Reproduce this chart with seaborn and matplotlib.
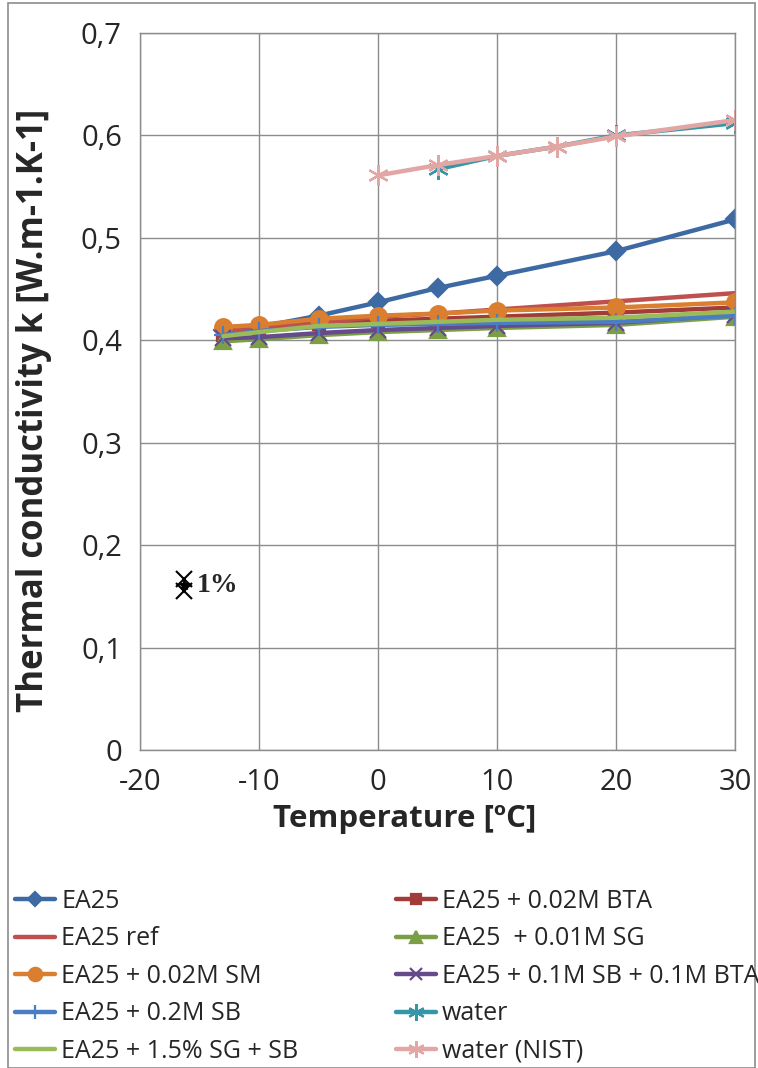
import matplotlib
matplotlib.use('Agg')
import matplotlib.pyplot as plt
import matplotlib.ticker as mticker
from matplotlib.patches import Rectangle
import seaborn as sns
import pandas as pd

sns.set_style('white')
plt.rcParams['font.family'] = ['Open Sans', 'DejaVu Sans']

# ---- data ----
temp_ea = [-13, -10, -5, 0, 5, 10, 20, 30]
k_ea25 = [0.410, 0.413, 0.424, 0.437, 0.451, 0.463, 0.487, 0.518]
k_bta = [0.405, 0.410, 0.416, 0.419, 0.421, 0.423, 0.427, 0.432]
k_ref = [0.409, 0.412, 0.417, 0.423, 0.426, 0.430, 0.438, 0.446]
k_sg = [0.399, 0.401, 0.405, 0.408, 0.410, 0.412, 0.415, 0.423]
k_sm = [0.413, 0.415, 0.421, 0.424, 0.426, 0.429, 0.432, 0.437]
k_sb_bta = [0.402, 0.403, 0.407, 0.410, 0.412, 0.414, 0.417, 0.425]
k_sb = [0.405, 0.409, 0.413, 0.415, 0.416, 0.417, 0.418, 0.424]
k_sg_sb = [0.404, 0.408, 0.414, 0.416, 0.418, 0.420, 0.422, 0.428]

temp_water = [5, 10, 15, 20, 30]
k_water = [0.567, 0.580, 0.589, 0.600, 0.612]
temp_nist = [0, 5, 10, 15, 20, 30]
k_nist = [0.561, 0.571, 0.580, 0.589, 0.599, 0.615]

err_x, err_y, err_half = -16.3, 0.161, 0.006
x_ticks = [-20, -10, 0, 10, 20, 30]
y_ticks = [0, 0.1, 0.2, 0.3, 0.4, 0.5, 0.6, 0.7]

# (label, temps, values, colour, marker, marker size)
series = [
    ('EA25', temp_ea, k_ea25, '#3D6AA2', 'D', 9),
    ('EA25 + 0.02M BTA', temp_ea, k_bta, '#A23C39', 's', 9),
    ('EA25 ref', temp_ea, k_ref, '#C0504D', None, 0),
    ('EA25  + 0.01M SG', temp_ea, k_sg, '#7C9E44', '^', 11),
    ('EA25 + 0.02M SM', temp_ea, k_sm, '#DA7E30', 'o', 12),
    ('EA25 + 0.1M SB + 0.1M BTA', temp_ea, k_sb_bta, '#654B8C', 'x', 11),
    ('EA25 + 0.2M SB', temp_ea, k_sb, '#4A7EC2', '+', 13),
    ('water', temp_water, k_water, '#3496A8', (6, 2, 0), 15),
    ('EA25 + 1.5% SG + SB', temp_ea, k_sg_sb, '#9BBB59', None, 0),
    ('water (NIST)', temp_nist, k_nist, '#E2A6A4', (6, 2, 0), 15),
]

fig = plt.figure(figsize=(7.58, 10.68), dpi=100)
ax = fig.add_axes([0.1847, 0.2978, 0.7850, 0.6713])

handles = {}
for label, t, k, col, mk, ms in series:
    df = pd.DataFrame({'T': t, 'k': k})
    sns.lineplot(data=df, x='T', y='k', ax=ax, color=col, linewidth=3.2,
                 marker=mk, markersize=ms, markeredgecolor=col,
                 markeredgewidth=1.6, label=label, legend=False)
    handles[label] = ax.lines[-1]

# 1% error indicator
ax.plot([err_x, err_x], [err_y - err_half, err_y + err_half], color='black', lw=1.2)
ax.plot([err_x, err_x], [err_y - err_half, err_y + err_half], ls='none',
        marker='x', ms=11, mew=1.5, color='black')
ax.plot([err_x], [err_y], marker='*', ms=7, color='black')
ax.text(err_x + 1.1, err_y, '1%', fontsize=20, fontweight='bold',
        family=['Liberation Serif', 'DejaVu Serif'], va='center', ha='left')

ax.set_xlim(-20, 30)
ax.set_ylim(0, 0.7)
ax.set_xticks(x_ticks)
ax.set_yticks(y_ticks)
ax.xaxis.set_minor_locator(mticker.MultipleLocator(2))
ax.yaxis.set_minor_locator(mticker.MultipleLocator(0.02))
ax.xaxis.set_major_formatter(mticker.FuncFormatter(lambda v, p: f'{v:.0f}'))
ax.yaxis.set_major_formatter(
    mticker.FuncFormatter(lambda v, p: '0' if v == 0 else f'{v:.1f}'.replace('.', ',')))
ax.tick_params(axis='both', which='both', direction='in', labelsize=21, color='#8C8C8C')
ax.tick_params(axis='both', which='major', length=0, pad=13)
ax.tick_params(axis='both', which='minor', length=7, width=0.8)
ax.grid(True, which='major', color='#8C8C8C', linewidth=1.0)
for s in ax.spines.values():
    s.set_color('#8C8C8C')
    s.set_linewidth(1.0)

ax.set_xlabel('Temperature [ºC]', fontsize=22.5, fontweight='bold', labelpad=2)
ax.xaxis.set_label_coords(0.444, -0.075)
ax.set_ylabel('Thermal conductivity k [W.m-1.K-1]', fontsize=25, fontweight='bold')
ax.yaxis.set_label_coords(-0.148, 0.474)

# legend, filled row-wise like the original
order = ['EA25', 'EA25 ref', 'EA25 + 0.02M SM', 'EA25 + 0.2M SB', 'EA25 + 1.5% SG + SB',
         'EA25 + 0.02M BTA', 'EA25  + 0.01M SG', 'EA25 + 0.1M SB + 0.1M BTA',
         'water', 'water (NIST)']
fig.legend([handles[o] for o in order], order, loc='upper left',
           bbox_to_anchor=(-0.003, 0.184), ncol=2, frameon=False, fontsize=18,
           handlelength=1.6, handletextpad=0.24, columnspacing=3.9,
           labelspacing=0.50, markerscale=0.8, borderaxespad=0.3)

fig.add_artist(Rectangle((0.011, 0.0), 0.985, 0.997, transform=fig.transFigure,
                         fill=False, edgecolor='#8C8C8C', linewidth=1.2))

fig.savefig('out.png', dpi=100)
